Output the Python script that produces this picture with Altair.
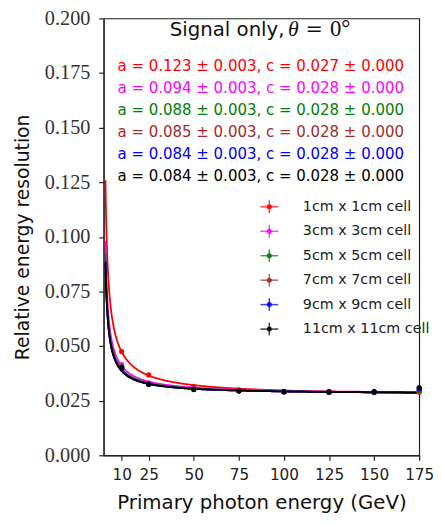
import altair as alt
import pandas as pd

# ---------------- data ----------------
series = ["1cm x 1cm cell", "3cm x 3cm cell", "5cm x 5cm cell",
          "7cm x 7cm cell", "9cm x 9cm cell", "11cm x 11cm cell"]
colors = ["#ff0000", "#ff00ff", "#008000", "#a52a2a", "#0000ff", "#000000"]

a_fit = [0.123, 0.094, 0.088, 0.085, 0.084, 0.084]
a_err = [0.003, 0.003, 0.003, 0.003, 0.003, 0.003]
c_fit = [0.027, 0.028, 0.028, 0.028, 0.028, 0.028]
c_err = [0.000, 0.000, 0.000, 0.000, 0.000, 0.000]

energies = [10, 25, 50, 75, 100, 125, 150, 175]
res_1cm = [0.0475, 0.0368, 0.0316, 0.0300, 0.0293, 0.0289, 0.0287, 0.0289]
res_3cm = [0.0415, 0.0331, 0.0306, 0.0296, 0.0291, 0.0290, 0.0288, 0.0292]
res_5cm = [0.0405, 0.0328, 0.0304, 0.0295, 0.0291, 0.0289, 0.0289, 0.0295]
res_7cm = [0.0402, 0.0326, 0.0303, 0.0295, 0.0291, 0.0290, 0.0289, 0.0300]
res_9cm = [0.0401, 0.0325, 0.0302, 0.0295, 0.0291, 0.0290, 0.0290, 0.0305]
res_11cm = [0.0400, 0.0325, 0.0301, 0.0295, 0.0291, 0.0290, 0.0291, 0.0310]

x_ticks = [10, 25, 50, 75, 100, 125, 150, 175]
y_ticks = [0.0, 0.025, 0.05, 0.075, 0.1, 0.125, 0.15, 0.175, 0.2]

title_words = "Signal only,"
title_sym = "θ"
title_eq = "="
title_val = "0°"

# ---------------- layout helpers ----------------
W, H = 320, 443
X_DOM = [0, 175]
Y_DOM = [0, 0.2]


def dx(px):  # pixel offset from plot left -> data x
    return X_DOM[0] + px / W * (X_DOM[1] - X_DOM[0])


def dy(px):  # pixel offset from plot top -> data y
    return Y_DOM[1] - px / H * (Y_DOM[1] - Y_DOM[0])


# ---------------- tables ----------------
all_res = [res_1cm, res_3cm, res_5cm, res_7cm, res_9cm, res_11cm]
pts = pd.DataFrame([
    {"series": s, "E": e, "res": r}
    for s, vals in zip(series, all_res) for e, r in zip(energies, vals)
])
fits = pd.DataFrame({"series": series, "a": a_fit, "c": c_fit})

ann = pd.DataFrame({
    "series": series,
    "label": [f"a = {a:.3f} ± {ae:.3f}, c = {c:.3f} ± {ce:.3f}"
              for a, ae, c, ce in zip(a_fit, a_err, c_fit, c_err)],
})
ann["E"] = dx(14)
ann["res"] = [dy(48 + 22.4 * i) for i in range(len(series))]

leg = pd.DataFrame({"series": series})
leg["xc"] = dx(168)
leg["xl"] = dx(159)
leg["xr"] = dx(177)
leg["xt"] = dx(202)
leg["yc"] = [dy(191 + 24.8 * i) for i in range(len(series))]
leg["yt"] = [dy(184.5 + 24.8 * i) for i in range(len(series))]
leg["yb"] = [dy(197.5 + 24.8 * i) for i in range(len(series))]

xscale = alt.Scale(domain=X_DOM, nice=False, zero=False)
yscale = alt.Scale(domain=Y_DOM, nice=False)
cscale = alt.Scale(domain=series, range=colors)
C = alt.Color("series:N", scale=cscale, legend=None)

X = alt.X("E:Q", scale=xscale,
          axis=alt.Axis(values=x_ticks, title="Primary photon energy (GeV)",
                        labelFont="DejaVu Sans", labelFontSize=15.5, labelPadding=8,
                        labelFlush=False, labelColor="#222222",
                        titleFont="DejaVu Sans", titleFontSize=20, titleFontWeight="normal",
                        titlePadding=9, tickSize=5, grid=False))
Y = alt.Y("res:Q", scale=yscale,
          axis=alt.Axis(values=y_ticks, format=".3f", title="Relative energy resolution",
                        labelFont="Liberation Serif", labelFontSize=20.5, labelPadding=9,
                        labelFlush=False, labelColor="#333333",
                        titleFont="DejaVu Sans", titleFontSize=19, titleFontWeight="normal",
                        titlePadding=12, tickSize=5, grid=False))

lines = alt.Chart(fits).transform_calculate(
    E="sequence(1, 175.2, 0.2)"
).transform_flatten(["E"]).transform_calculate(
    res="sqrt(datum.a*datum.a/datum.E + datum.c*datum.c)"
).mark_line(strokeWidth=1.8, clip=True).encode(
    x=X, y=Y, color=C, detail="series:N",
)

points = alt.Chart(pts).mark_circle(size=28, opacity=1).encode(
    x=X, y=Y, color=C,
)

ann_chart = alt.Chart(ann).mark_text(
    align="left", baseline="middle", font="DejaVu Sans", fontSize=15.2
).encode(
    x=alt.X("E:Q", scale=xscale), y=alt.Y("res:Q", scale=yscale),
    text="label:N", color=C,
)

# manual legend: error-bar style symbols
leg_h = alt.Chart(leg).mark_rule(strokeWidth=1.5, opacity=0.75).encode(
    x=alt.X("xl:Q", scale=xscale), x2="xr:Q", y=alt.Y("yc:Q", scale=yscale), color=C)
leg_v = alt.Chart(leg).mark_rule(strokeWidth=1.5, opacity=0.75).encode(
    x=alt.X("xc:Q", scale=xscale), y=alt.Y("yt:Q", scale=yscale), y2="yb:Q", color=C)
leg_d = alt.Chart(leg).mark_circle(size=26, opacity=0.9).encode(
    x=alt.X("xc:Q", scale=xscale), y=alt.Y("yc:Q", scale=yscale), color=C)
leg_t = alt.Chart(leg).mark_text(
    align="left", baseline="middle", font="DejaVu Sans", fontSize=14.5, color="#222222"
).encode(x=alt.X("xt:Q", scale=xscale), y=alt.Y("yc:Q", scale=yscale), text="series:N")

# title inside the plot
ty = dy(17.7)
t1 = alt.Chart(pd.DataFrame({"t": [title_words], "E": [dx(67)], "res": [ty]})).mark_text(
    align="left", baseline="alphabetic", font="DejaVu Sans", fontSize=20, color="#111111"
).encode(x=alt.X("E:Q", scale=xscale), y=alt.Y("res:Q", scale=yscale), text="t:N")
t2 = alt.Chart(pd.DataFrame({"t": [title_sym], "E": [dx(187)], "res": [ty]})).mark_text(
    align="left", baseline="alphabetic", font="Liberation Serif", fontStyle="italic",
    fontSize=22, color="#111111"
).encode(x=alt.X("E:Q", scale=xscale), y=alt.Y("res:Q", scale=yscale), text="t:N")
t3 = alt.Chart(pd.DataFrame({"t": [title_eq], "E": [dx(213.5)], "res": [ty]})).mark_text(
    align="center", baseline="alphabetic", font="DejaVu Serif", fontSize=21, color="#111111"
).encode(x=alt.X("E:Q", scale=xscale), y=alt.Y("res:Q", scale=yscale), text="t:N")
t4 = alt.Chart(pd.DataFrame({"t": [title_val], "E": [dx(229.5)], "res": [ty]})).mark_text(
    align="left", baseline="alphabetic", font="Liberation Serif", fontSize=23, color="#111111"
).encode(x=alt.X("E:Q", scale=xscale), y=alt.Y("res:Q", scale=yscale), text="t:N")

chart = alt.layer(
    lines, points, ann_chart, leg_h, leg_v, leg_d, leg_t, t1, t2, t3, t4
).properties(
    width=W, height=H,
    autosize=alt.AutoSizeParams(type="none"),
    padding={"left": 97, "top": 7, "right": 15, "bottom": 60},
).configure_view(stroke="#222222", strokeWidth=1.2).configure_axis(
    domainColor="#222222", tickColor="#222222", titleColor="#111111",
    domainWidth=1.2, tickWidth=1.2,
)

chart.save("out.html", embed_options={"renderer": "svg", "actions": False})
